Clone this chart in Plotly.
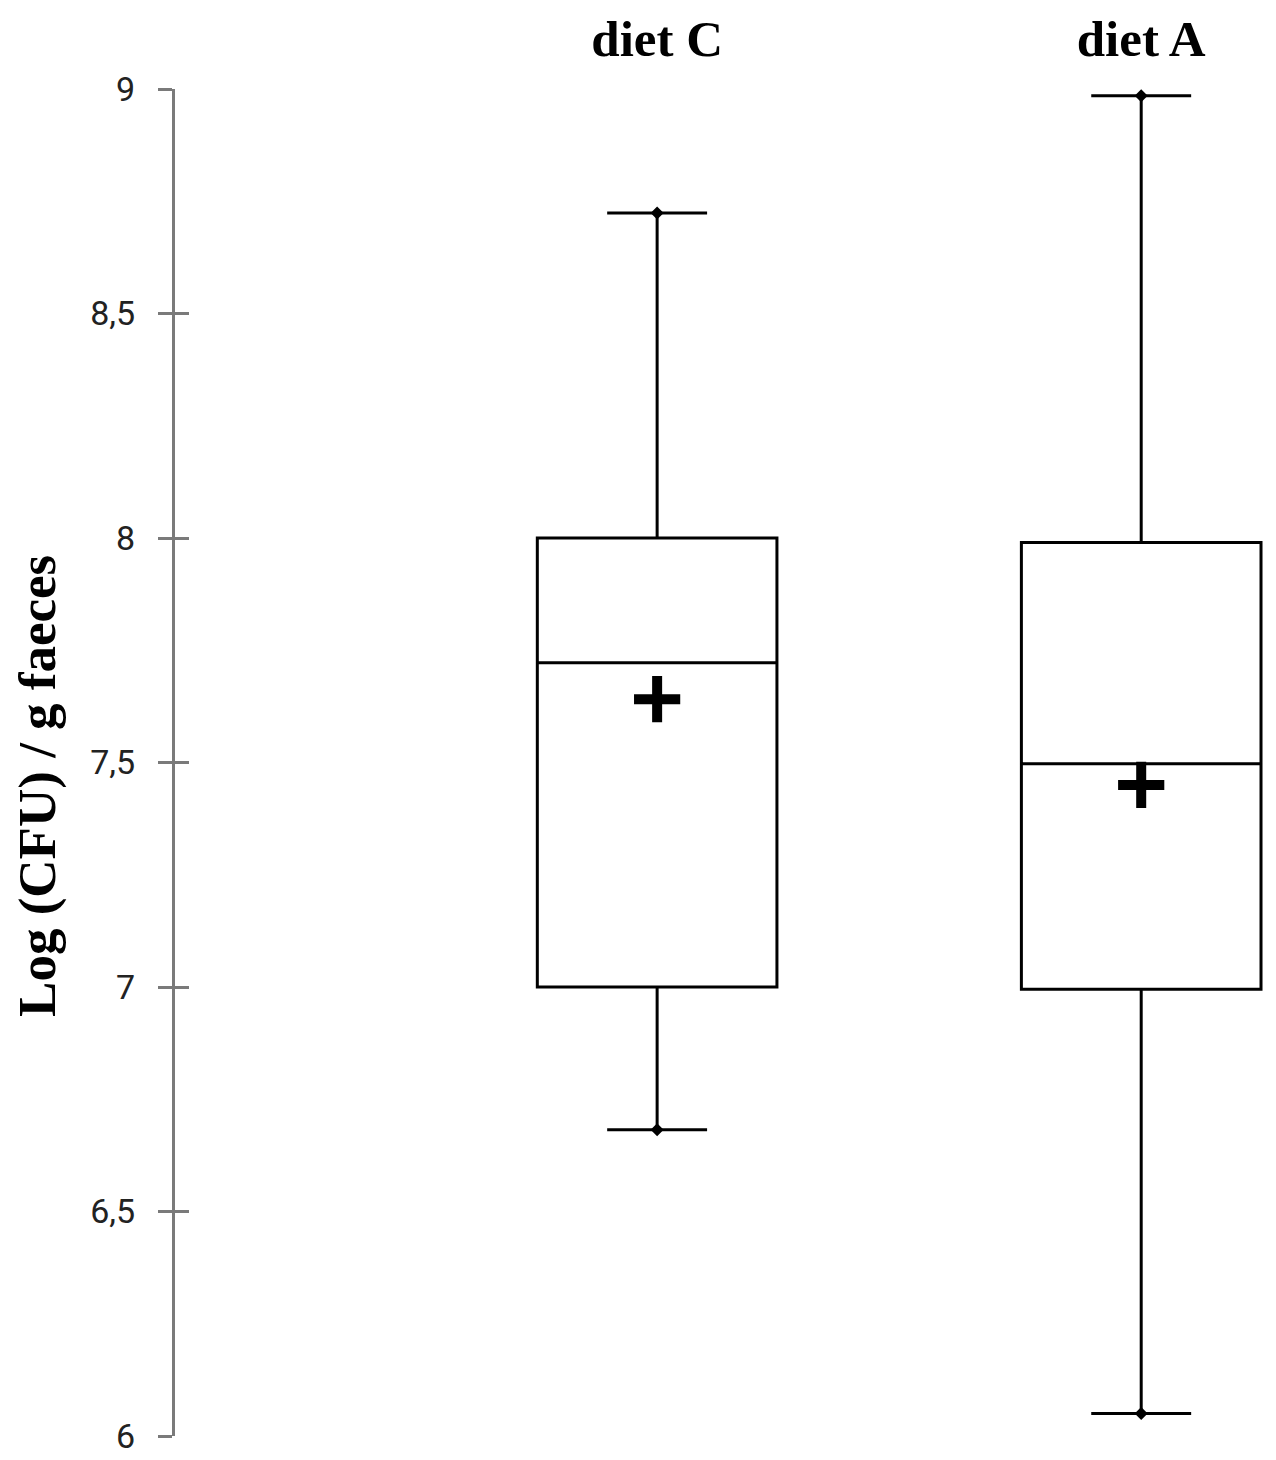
import plotly.graph_objects as go

# ---- data ----
categories = ["diet C", "diet A"]
cat_pos = [0, 1]
q1 = [7.00, 6.995]
median = [7.722, 7.497]
q3 = [8.00, 7.99]
lower = [6.682, 6.05]
upper = [8.724, 8.985]
mean = [7.641, 7.45]

y_ticks = [6, 6.5, 7, 7.5, 8, 8.5, 9]
y_ticktext = ["6", "6,5", "7", "7,5", "8", "8,5", "9"]
y_title = "Log (CFU) / g faeces"

fig = go.Figure()

fig.add_trace(go.Box(
    x=cat_pos, q1=q1, median=median, q3=q3,
    lowerfence=lower, upperfence=upper,
    width=0.495, whiskerwidth=0.417,
    fillcolor="white",
    line=dict(color="black", width=3),
    boxpoints=False, showlegend=False, hoverinfo="skip",
))

# whisker-end diamonds
fig.add_trace(go.Scatter(
    x=cat_pos + cat_pos, y=lower + upper, mode="markers",
    marker=dict(symbol="diamond", size=10, color="black"),
    showlegend=False, hoverinfo="skip",
))

# mean crosses
fig.add_trace(go.Scatter(
    x=cat_pos, y=mean, mode="markers",
    marker=dict(symbol="cross-thin", size=33,
                line=dict(color="black", width=10)),
    showlegend=False, hoverinfo="skip",
))

# invisible trace for the overlay axis carrying inward ticks
fig.add_trace(go.Scatter(
    x=[cat_pos[0]], y=[y_ticks[0]], yaxis="y2", mode="markers",
    marker=dict(size=1, opacity=0), showlegend=False, hoverinfo="skip",
))

axis_col = "#7a7a7a"
fig.update_layout(
    width=1276, height=1460,
    margin=dict(l=167, r=0, t=81, b=32),
    plot_bgcolor="white", paper_bgcolor="white",
    xaxis=dict(
        range=[-0.996, 1.295], side="top", automargin=False,
        tickmode="array", tickvals=cat_pos, ticktext=categories,
        ticks="", showline=False, showgrid=False, zeroline=False,
        tickfont=dict(family="Liberation Serif", size=51, color="black", weight="bold"),
        ticklabelstandoff=22,
    ),
    yaxis=dict(
        range=[6, 9], tickmode="array", tickvals=y_ticks, ticktext=y_ticktext,
        ticks="outside", ticklen=14, tickwidth=3, tickcolor=axis_col,
        showline=True, linecolor=axis_col, linewidth=3,
        showgrid=False, zeroline=False, automargin=False,
        tickfont=dict(family="Roboto", size=34, color="#222222"),
        ticklabelstandoff=16,
    ),
    yaxis2=dict(
        range=[6, 9], overlaying="y", side="left", anchor="x",
        tickmode="array", tickvals=y_ticks,
        ticks="inside", ticklen=14, tickwidth=3, tickcolor=axis_col,
        showticklabels=False, showline=False, showgrid=False, zeroline=False,
    ),
    annotations=[dict(
        text="<b>" + y_title + "</b>", textangle=-90,
        xref="paper", yref="paper", x=0, y=0.4826,
        xanchor="center", yanchor="middle", xshift=-137, showarrow=False,
        font=dict(family="Liberation Serif", size=53, color="black"),
    )],
)

fig.write_html("out.html")
